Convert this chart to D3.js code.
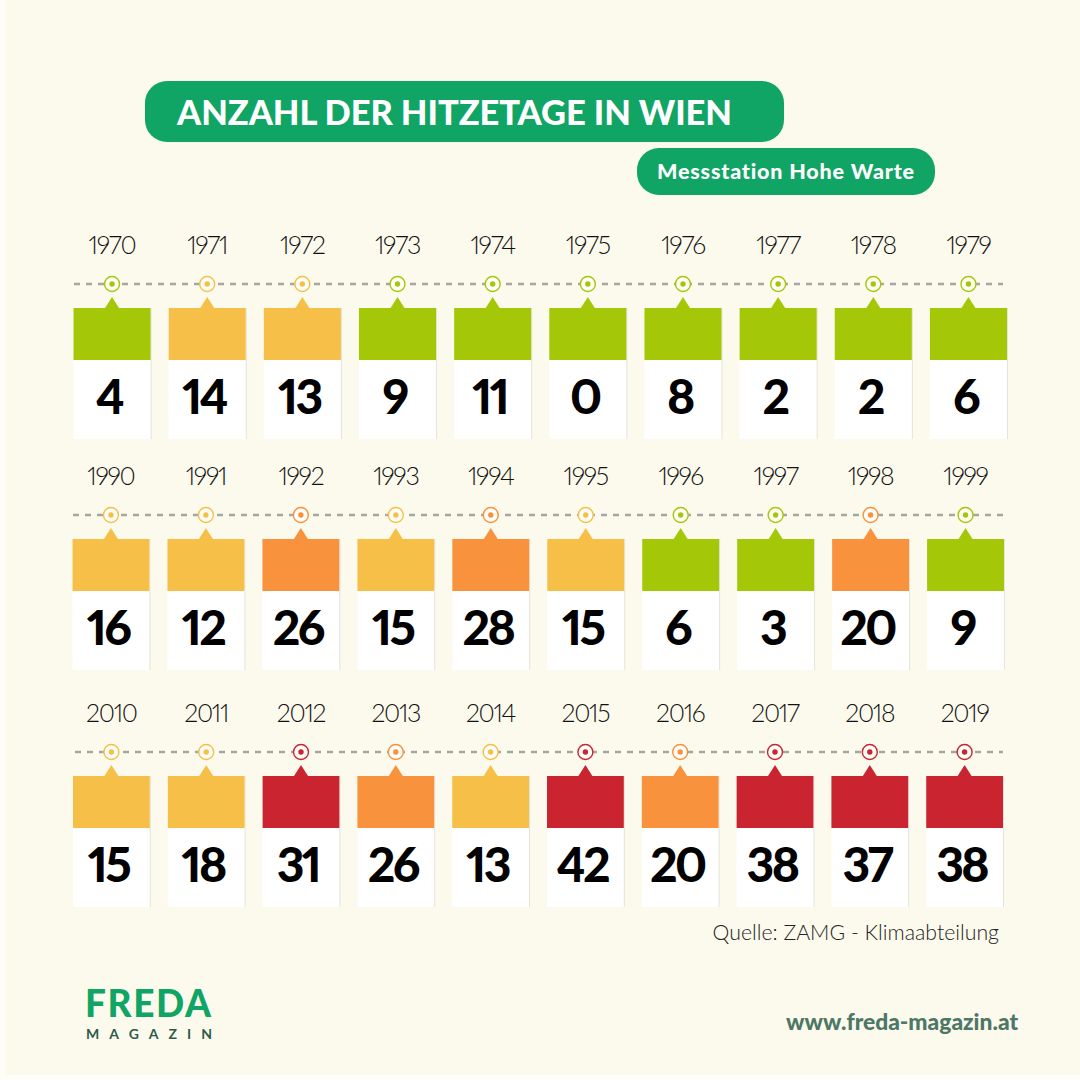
<!DOCTYPE html>
<html>
<head>
<meta charset="utf-8">
<script src="https://cdn.jsdelivr.net/npm/d3@7"></script>
<style>
  html, body { margin: 0; padding: 0; background: #fff; }
  svg { display: block; }
  text { font-variant-numeric: proportional-nums; font-variant-ligatures: none; }
</style>
</head>
<body>
<div id="chart"></div>
<script>
const years1 = [1970, 1971, 1972, 1973, 1974, 1975, 1976, 1977, 1978, 1979];
const days1 = [4, 14, 13, 9, 11, 0, 8, 2, 2, 6];
const years2 = [1990, 1991, 1992, 1993, 1994, 1995, 1996, 1997, 1998, 1999];
const days2 = [16, 12, 26, 15, 28, 15, 6, 3, 20, 9];
const years3 = [2010, 2011, 2012, 2013, 2014, 2015, 2016, 2017, 2018, 2019];
const days3 = [15, 18, 31, 26, 13, 42, 20, 38, 37, 38];

const w = 1080, h = 1080;
const sans = "Lato, 'Noto Sans', sans-serif";

const color = d3.scaleThreshold()
  .domain([12, 20, 30])
  .range(["#a4c808", "#f6c048", "#f8923d", "#c9242f"]);

const svg = d3.select("#chart").append("svg").attr("width", w).attr("height", h);

svg.append("rect").attr("width", w).attr("height", h).attr("fill", "#fefdf7");
svg.append("rect").attr("x", 5).attr("width", w - 5).attr("height", h - 5).attr("fill", "#fcfaed");

// header pills
svg.append("rect").attr("x", 145).attr("y", 81).attr("width", 639).attr("height", 61).attr("rx", 22).attr("fill", "#10a465");
svg.append("rect").attr("x", 637).attr("y", 148).attr("width", 298).attr("height", 47).attr("rx", 22).attr("fill", "#10a465");
svg.append("text").attr("x", 177).attr("y", 125).attr("font-family", sans).attr("font-weight", 900)
  .attr("font-size", 34.5).attr("textLength", 555).attr("fill", "#fff").text("ANZAHL DER HITZETAGE IN WIEN");
svg.append("text").attr("x", 657).attr("y", 179).attr("font-family", sans).attr("font-weight", 900)
  .attr("font-size", 21.5).attr("textLength", 257).attr("fill", "#fff").text("Messstation Hohe Warte");

// one row of cards
function drawRow(years, days, x0, x1, lineStart, lineEnd, lineY) {
  const x = d3.scaleBand().domain(years).range([x0, x1]).paddingInner(0.19).paddingOuter(0);
  const bw = x.bandwidth();
  const g = svg.append("g");

  g.append("line").attr("x1", lineStart).attr("x2", lineEnd).attr("y1", lineY).attr("y2", lineY)
    .attr("stroke", "#a8a6a0").attr("stroke-width", 2.4).attr("stroke-dasharray", "6 6");

  const card = g.selectAll("g.card").data(years.map((y, i) => ({ year: y, val: days[i] })))
    .enter().append("g").attr("class", "card")
    .attr("transform", d => `translate(${x(d.year)},0)`);

  const mid = bw / 2;

  card.append("text").attr("x", mid).attr("y", lineY - 30).attr("text-anchor", "middle")
    .attr("font-family", sans).attr("font-weight", 300).attr("font-size", 25)
    .attr("letter-spacing", -1.3).attr("fill", "#111").text(d => d.year);

  card.append("circle").attr("cx", mid).attr("cy", lineY).attr("r", 7.5)
    .attr("fill", "#fefdf7").attr("stroke", d => color(d.val)).attr("stroke-width", 1.4);
  card.append("circle").attr("cx", mid).attr("cy", lineY).attr("r", 2.7).attr("fill", d => color(d.val));

  // white sheet with thin shadow edge
  card.append("rect").attr("x", 1).attr("y", lineY + 24).attr("width", bw).attr("height", 131).attr("fill", "#e4e3dc");
  card.append("rect").attr("y", lineY + 24).attr("width", bw).attr("height", 131).attr("fill", "#fff");
  card.append("rect").attr("y", lineY + 24).attr("width", bw).attr("height", 52).attr("fill", d => color(d.val));
  card.append("path").attr("d", `M${mid - 7},${lineY + 24}L${mid},${lineY + 13}L${mid + 7},${lineY + 24}Z`)
    .attr("fill", d => color(d.val));

  card.append("text").attr("x", mid - 3).attr("y", lineY + 130).attr("text-anchor", "middle")
    .attr("font-family", sans).attr("font-weight", 900).attr("font-size", 48)
    .attr("letter-spacing", -2.6).attr("fill", "#000").text(d => d.val);
}

drawRow(years1, days1, 73.5, 1007, 74, 1003, 284);
drawRow(years2, days2, 72.5, 1004, 73, 1003, 515);
drawRow(years3, days3, 73, 1003, 75, 1003, 752);

// footer
svg.append("text").attr("x", 999).attr("y", 940).attr("text-anchor", "end").attr("font-family", sans)
  .attr("font-weight", 300).attr("font-size", 21.3).attr("fill", "#222").text("Quelle: ZAMG - Klimaabteilung");
svg.append("text").attr("x", 85).attr("y", 1017).attr("font-family", sans).attr("font-weight", 900)
  .attr("font-size", 37).attr("textLength", 126).attr("fill", "#10a465").text("FREDA");
svg.append("text").attr("x", 86).attr("y", 1039).attr("font-family", sans).attr("font-weight", 700)
  .attr("font-size", 14).attr("textLength", 126).attr("fill", "#2f5a4b").text("MAGAZIN");
svg.append("text").attr("x", 1018).attr("y", 1030).attr("text-anchor", "end").attr("font-family", sans)
  .attr("font-weight", 900).attr("font-size", 22.8).attr("fill", "#4d7766").text("www.freda-magazin.at");
</script>
</body>
</html>
